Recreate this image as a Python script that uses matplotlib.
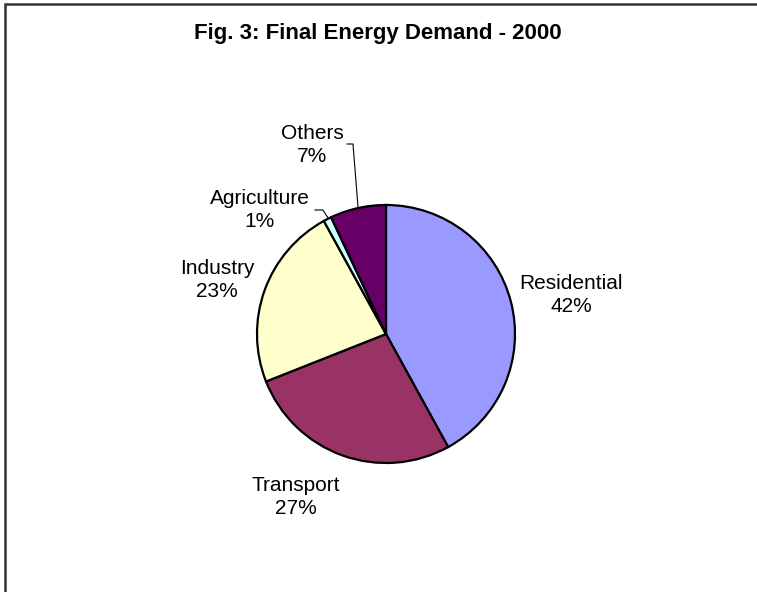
import numpy as np
import matplotlib
matplotlib.use('Agg')
from matplotlib import pyplot as plt

plt.rcParams['font.family'] = ['Liberation Sans', 'DejaVu Sans']

W, H = 757, 592

title = "Fig. 3: Final Energy Demand - 2000"
sectors = ["Residential", "Transport", "Industry", "Agriculture", "Others"]
shares = [42, 27, 23, 1, 7]
colors = ["#9999FF", "#993366", "#FFFFCC", "#CCFFFF", "#660066"]

# label anchors in pixels from the top-left corner
label_pos = {
    "Residential": (571, 295),
    "Transport": (296, 497),
    "Industry": (217, 280),
    "Agriculture": (260, 210),
    "Others": (312, 145),
}

def py(y):
    return H - y

fig = plt.figure(figsize=(W / 100, H / 100), dpi=100)
ax = fig.add_axes([0, 0, 1, 1])
ax.set_xlim(0, W)
ax.set_ylim(0, H)
ax.set_aspect('equal')
ax.axis('off')

# chart frame (only top and left edges fall inside the image)
ax.plot([5, 5, W + 10], [py(H + 10), py(4), py(4)], color='#333333', lw=1.8,
        solid_joinstyle='miter')

ax.text(378, py(33), title, ha='center', va='center', fontsize=16,
        fontweight='bold')

cx, cy, r = 386, 334, 129
wedges, _ = ax.pie(shares, colors=colors, startangle=90, counterclock=False,
                   center=(cx, py(cy)), radius=r,
                   wedgeprops=dict(edgecolor='black', linewidth=1.6))

for name, val in zip(sectors, shares):
    x, y = label_pos[name]
    ax.text(x, py(y), f"{name}\n{val}%", ha='center', va='center',
            fontsize=15, linespacing=1.3)

# leader lines for the small slices
ax.plot([347, 353, 358], [py(144), py(144), py(207)], color='black', lw=0.8)
ax.plot([315, 323, 328], [py(210), py(210), py(218)], color='black', lw=0.8)

ax.set_xlim(0, W)
ax.set_ylim(0, H)

plt.savefig("out.png", dpi=100)
